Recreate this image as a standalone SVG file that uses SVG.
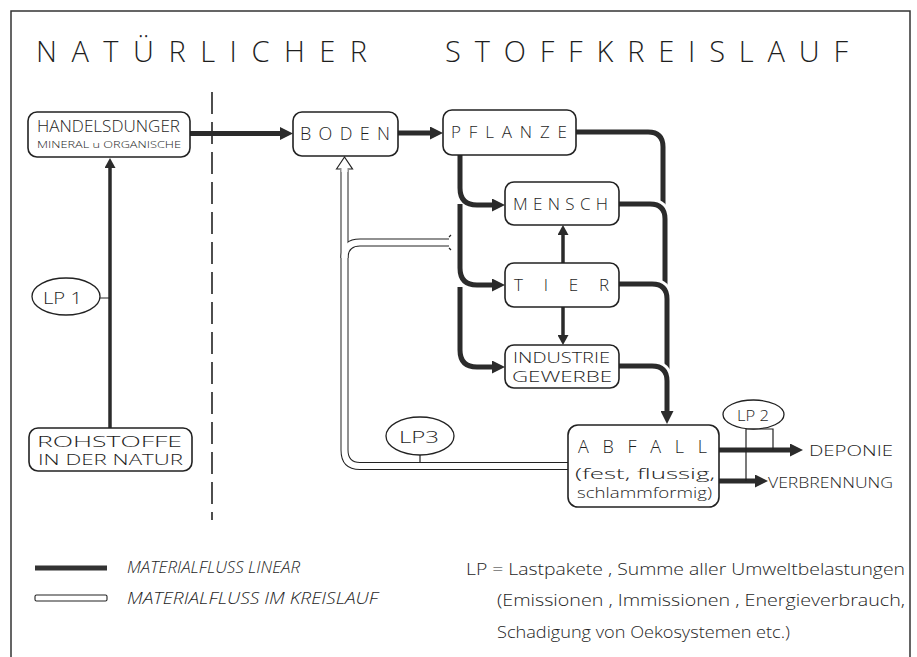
<svg xmlns="http://www.w3.org/2000/svg" width="917" height="657" viewBox="0 0 917 657">
<style>
.t{font-family:"Open Sans","Liberation Sans",sans-serif;font-weight:300;fill:#1e1e1e}
.it{font-style:italic}
.box{fill:#fff;stroke:#222;stroke-width:1.6}
.ell{fill:#fff;stroke:#222;stroke-width:1.3}
.thick{fill:none;stroke:#2b2b2b;stroke-width:5}
.med{fill:none;stroke:#2b2b2b;stroke-width:3.5}
.halo{fill:none;stroke:#fff;stroke-width:11}
.thin{fill:none;stroke:#222;stroke-width:1.2}
.ho{fill:none;stroke:#222;stroke-width:8}
.hi{fill:none;stroke:#fff;stroke-width:6}
</style>
<defs>
<marker id="ah" markerUnits="userSpaceOnUse" markerWidth="13" markerHeight="13" viewBox="0 0 13 13" refX="1" refY="6.5" orient="auto"><path d="M0,0 L13,6.5 L0,13 z" fill="#2b2b2b"/></marker>
<marker id="as" markerUnits="userSpaceOnUse" markerWidth="10" markerHeight="11" viewBox="0 0 10 11" refX="1" refY="5.5" orient="auto"><path d="M0,0 L10,5.5 L0,11 z" fill="#2b2b2b"/></marker>
</defs>
<rect width="917" height="657" fill="#fff"/>
<g id="frame">
<path d="M11,657 V11 H910 V657" fill="none" stroke="#333" stroke-width="1.5"/>
<line x1="212" y1="92" x2="212" y2="520" stroke="#222" stroke-width="1.6" stroke-dasharray="22 8"/>
</g>
<g id="title">
<text class="t" x="36" y="62" font-size="29" textLength="331" lengthAdjust="spacing">NATÜRLICHER</text>
<text class="t" x="445" y="62" font-size="29" textLength="403" lengthAdjust="spacing">STOFFKREISLAUF</text>
</g>
<g id="connectors">
<path class="thick" d="M190,133.5 H281" marker-end="url(#ah)"/>
<path class="thick" d="M398,133 H431" marker-end="url(#ah)"/>
<path class="med" d="M110,428 V167" marker-end="url(#as)"/>
<path class="thick" d="M460,155 V188 Q460,205 477,205 H493" marker-end="url(#ah)"/>
<path class="thick" d="M460,204 V268 Q460,285 477,285 H493" marker-end="url(#ah)"/>
<path class="thick" d="M460,287 V350 Q460,367 477,367 H493" marker-end="url(#ah)"/>
<path class="med" d="M563,263 V234" marker-end="url(#as)"/>
<path class="med" d="M563,307 V336" marker-end="url(#as)"/>
<path class="thick" d="M576,132 H648 Q663,132 663,147 V212"/>
<path class="halo" d="M619,204 H650 Q665,204 665,219 V240"/>
<path class="thick" d="M619,204 H650 Q665,204 665,219 V292"/>
<path class="halo" d="M619,284 H652 Q667,284 667,299 V320"/>
<path class="thick" d="M619,284 H652 Q667,284 667,299 V374"/>
<path class="halo" d="M619,366 H652 Q667,366 667,381 V400"/>
<path class="thick" d="M619,366 H652 Q667,366 667,381 V412" marker-end="url(#ah)"/>
<path class="thick" d="M719,450 H791" marker-end="url(#ah)"/>
<path class="thick" d="M719,481 H756" marker-end="url(#ah)"/>
<path class="thin" d="M746,481 V429 H773 V450"/>
<path class="thin" d="M66,298 H110"/>
<path class="thin" d="M420,455 V462"/>
<path class="ho" d="M568,466 H360 Q344.5,466 344.5,450 V170"/>
<path class="ho" d="M344.5,258 Q344.5,242.5 360,242.5 H449"/>
<path class="hi" d="M570,466 H360 Q344.5,466 344.5,450 V170"/>
<path class="hi" d="M344.5,258 Q344.5,242.5 360,242.5 H450"/>
<path d="M449,237 L451,235 M449,248 L451,250" class="thin"/>
<polygon points="336.5,169 344.5,157 352.5,169 347.5,169 341.5,169" fill="#fff" stroke="#222" stroke-width="1.2"/>
<rect x="341.5" y="168" width="6" height="4" fill="#fff"/>
</g>
<g id="handelsdunger">
<rect class="box" x="28" y="112" width="162" height="45" rx="9"/>
<text class="t" x="37" y="132" font-size="17" textLength="143" lengthAdjust="spacingAndGlyphs">HANDELSDUNGER</text>
<text class="t" x="37" y="148" font-size="9.5" textLength="144" lengthAdjust="spacingAndGlyphs">MINERAL  u  ORGANISCHE</text>
</g>
<g id="rohstoffe">
<rect class="box" x="29" y="428" width="163" height="43" rx="9"/>
<text class="t" x="37" y="447" font-size="15" textLength="145" lengthAdjust="spacingAndGlyphs">ROHSTOFFE</text>
<text class="t" x="38" y="465" font-size="14" textLength="145" lengthAdjust="spacingAndGlyphs">IN DER NATUR</text>
</g>
<g id="lp1">
<ellipse class="ell" cx="66" cy="296.5" rx="34" ry="18.5"/>
<text class="t" x="43" y="304" font-size="16" textLength="39" lengthAdjust="spacingAndGlyphs">LP 1</text>
</g>
<g id="boden">
<rect class="box" x="293" y="112" width="105" height="44" rx="9"/>
<text class="t" x="300" y="140" font-size="18" textLength="90" lengthAdjust="spacing">BODEN</text>
</g>
<g id="pflanze">
<rect class="box" x="443" y="110" width="133" height="45" rx="9"/>
<text class="t" x="451" y="138" font-size="17" textLength="116" lengthAdjust="spacing">PFLANZE</text>
</g>
<g id="mensch">
<rect class="box" x="505" y="182" width="114" height="43" rx="9"/>
<text class="t" x="513" y="210" font-size="17" textLength="95" lengthAdjust="spacing">MENSCH</text>
</g>
<g id="tier">
<rect class="box" x="505" y="263" width="114" height="44" rx="9"/>
<text class="t" x="514" y="291" font-size="17" textLength="95" lengthAdjust="spacing">TIER</text>
</g>
<g id="industrie">
<rect class="box" x="505" y="345" width="114" height="43" rx="9"/>
<text class="t" x="513" y="363" font-size="14" textLength="97" lengthAdjust="spacingAndGlyphs">INDUSTRIE</text>
<text class="t" x="512" y="382" font-size="14" textLength="100" lengthAdjust="spacingAndGlyphs">GEWERBE</text>
</g>
<g id="abfall">
<rect class="box" x="568" y="425" width="151" height="82" rx="10"/>
<text class="t" x="578" y="453" font-size="18" textLength="129" lengthAdjust="spacing">ABFALL</text>
<text class="t" x="575" y="479" font-size="14.5" textLength="140" lengthAdjust="spacingAndGlyphs">(fest,  flussig,</text>
<text class="t" x="577" y="498" font-size="14.5" textLength="135" lengthAdjust="spacingAndGlyphs">schlammformig)</text>
</g>
<g id="lp3">
<ellipse class="ell" cx="420" cy="436" rx="34" ry="19"/>
<text class="t" x="399" y="443" font-size="16" textLength="40" lengthAdjust="spacingAndGlyphs">LP3</text>
</g>
<g id="lp2">
<ellipse class="ell" cx="753.5" cy="414.5" rx="30.5" ry="14.5"/>
<text class="t" x="737" y="421" font-size="15" textLength="32" lengthAdjust="spacingAndGlyphs">LP 2</text>
</g>
<g id="deponie">
<text class="t" x="809" y="456" font-size="15" textLength="84" lengthAdjust="spacingAndGlyphs">DEPONIE</text>
</g>
<g id="verbrennung">
<text class="t" x="768" y="488" font-size="15" textLength="125" lengthAdjust="spacingAndGlyphs">VERBRENNUNG</text>
</g>
<g id="legend">
<line x1="35" y1="568" x2="107" y2="568" stroke="#333" stroke-width="5"/>
<rect x="35" y="595" width="72" height="6" rx="1.5" fill="#fff" stroke="#222" stroke-width="1.1"/>
<text class="t it" x="127" y="573" font-size="16" textLength="173" lengthAdjust="spacingAndGlyphs">MATERIALFLUSS LINEAR</text>
<text class="t it" x="127" y="604" font-size="16" textLength="251" lengthAdjust="spacingAndGlyphs">MATERIALFLUSS IM KREISLAUF</text>
<text class="t" x="466" y="575" font-size="16" textLength="439" lengthAdjust="spacingAndGlyphs">LP = Lastpakete , Summe aller Umweltbelastungen</text>
<text class="t" x="497" y="606" font-size="16" textLength="408" lengthAdjust="spacingAndGlyphs">(Emissionen , Immissionen , Energieverbrauch,</text>
<text class="t" x="497" y="638" font-size="16" textLength="293" lengthAdjust="spacingAndGlyphs">Schadigung von Oekosystemen  etc.)</text>
</g>
</svg>
